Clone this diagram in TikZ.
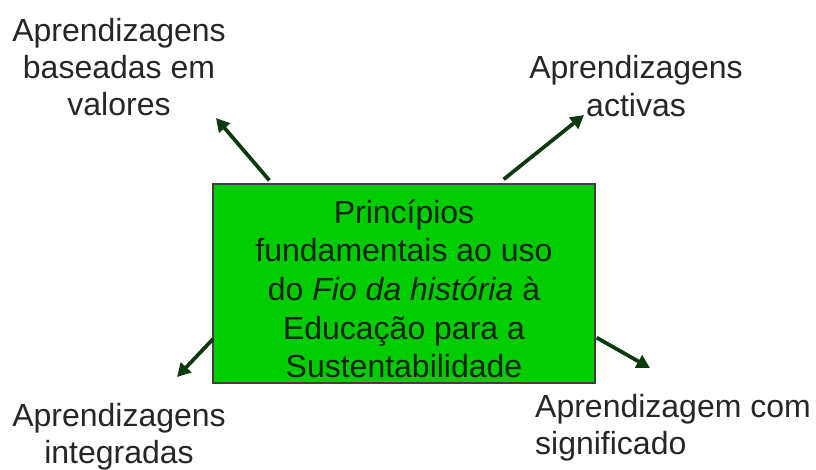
\documentclass[tikz,border=0pt]{standalone}
\usepackage{fontspec}
\setmainfont{Liberation Sans}
\usepackage{xcolor}
\usepackage{tikz}
\usetikzlibrary{arrows.meta,calc}

\definecolor{boxgreen}{RGB}{0,204,0}
\definecolor{arrowgreen}{RGB}{12,58,12}
\definecolor{textdark}{RGB}{20,36,20}

\begin{document}
\begin{tikzpicture}[
    x=0.75pt, y=-0.75pt,
    principle/.style={draw=black!75, line width=1pt, fill=boxgreen, text=textdark,
        minimum width=286.5pt, minimum height=149.25pt, align=center,
        font=\fontsize{24}{29}\selectfont},
    label/.style={text=black!85, align=center, font=\fontsize{24}{28}\selectfont},
    link/.style={draw=arrowgreen, line width=2.8pt, -{Triangle[length=10pt,width=10.5pt]}}
]
\useasboundingbox (0,0) rectangle (816,470);

% central box
\node[principle] (box) at (404,283.5) {};
\node[text=textdark, align=center, font=\fontsize{24}{29}\selectfont] (boxtext) at (404,289)
    {Princípios\\fundamentais ao uso\\do \textit{Fio da história} à\\Educação para a\\Sustentabilidade};

% outer labels
\node[label] (valores) at (119,67) {Aprendizagens\\baseadas em\\valores};
\node[label] (activas) at (636,86) {Aprendizagens\\activas};
\node[label] (integradas) at (119,437) {Aprendizagens\\integradas};
\node[label, align=left] (significado) at (673,428) {Aprendizagem com\\significado};

% arrow tips
\coordinate (tipvalores) at (216,118);
\coordinate (tipactivas) at (584,115);
\coordinate (tipintegradas) at (177,377);
\coordinate (tipsignificado) at (650,368);

\draw[link] ($(box.north west)+(57,-3)$) -- (tipvalores);
\draw[link] ($(box.north east)+(-92,-4)$) -- (tipactivas);
\draw[link] ($(box.south west)+(1,-45)$) -- (tipintegradas);
\draw[link] ($(box.south east)+(1,-46)$) -- (tipsignificado);
\end{tikzpicture}
\end{document}
